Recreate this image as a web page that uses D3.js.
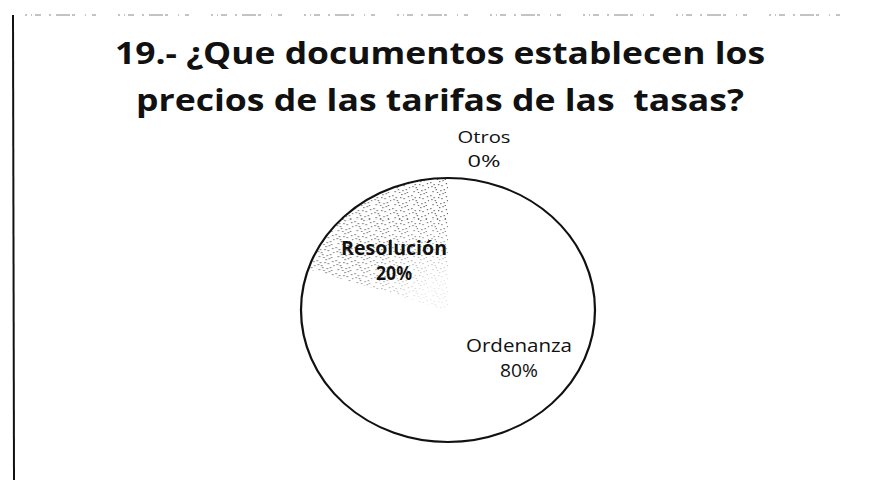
<!DOCTYPE html>
<html><head><meta charset="utf-8">
<script src="https://cdn.jsdelivr.net/npm/d3@7"></script>
<style>body{margin:0;background:#fff}svg{display:block}</style>
</head><body>
<svg id="c" width="873" height="480"></svg>
<script>
const categories = ["Resolución", "Ordenanza", "Otros"];
const values = [20, 80, 0];
const pctLabels = ["20%", "80%", "0%"];
const titleLines = ["19.- ¿Que documentos establecen los", "precios de las tarifas de las  tasas?"];

const svg = d3.select("#c");

// speckle pattern
const defs = svg.append("defs");
const pat = defs.append("pattern").attr("id","speck").attr("patternUnits","userSpaceOnUse")
  .attr("width",17).attr("height",13);
const dots = [[1,2],[5,7],[9,1],[13,9],[3,11],[11,5],[15,3],[7,12],[2,6],[14,12],[8,4],[6,9],[12,0],[16,7],[4,4],[10,10]];
dots.forEach(d=>pat.append("rect").attr("x",d[0]).attr("y",d[1]).attr("width",1.2).attr("height",1.2).attr("fill","#666"));
const rg = defs.append("radialGradient").attr("id","fade").attr("gradientUnits","userSpaceOnUse")
  .attr("cx",0).attr("cy",0).attr("r",140);
rg.append("stop").attr("offset","0.2").attr("stop-color","#fff").attr("stop-opacity",0.85);
rg.append("stop").attr("offset","0.7").attr("stop-color","#fff").attr("stop-opacity",0.05);

// frame
svg.append("line").attr("x1",13).attr("y1",15).attr("x2",14).attr("y2",480)
  .attr("stroke","#111").attr("stroke-width",2);
svg.append("line").attr("x1",25).attr("y1",15).attr("x2",860).attr("y2",15)
  .attr("stroke","#888").attr("stroke-width",1).attr("stroke-dasharray","2 4 1 3 6 8 2 5 14 2 3 10 1 6 4 22");

// title
svg.selectAll("text.title").data(titleLines).enter().append("text")
  .attr("class","title")
  .attr("x",440).attr("y",(d,i)=>64+i*47)
  .attr("text-anchor","middle")
  .style("white-space","pre")
  .attr("font-family","'Open Sans', sans-serif").attr("font-weight","bold")
  .attr("font-size",31).attr("fill","#111")
  .attr("textLength",(d,i)=>i===0?650:608).attr("lengthAdjust","spacingAndGlyphs")
  .text(d=>d);

// pie
const cx = 448, cy = 310, r = 132, sx = 147/132;
const pie = d3.pie().sort(null).startAngle(-2*Math.PI*0.2).endAngle(2*Math.PI - 2*Math.PI*0.2).value(d=>d.v);
const data = categories.map((c,i)=>({c, v:values[i], p:pctLabels[i]}));
const arcs = pie(data);
const arc = d3.arc().innerRadius(0).outerRadius(r);
const g = svg.append("g").attr("transform",`translate(${cx},${cy}) scale(${sx},1)`);
g.selectAll("path.slice").data(arcs).enter().append("path")
  .attr("class","slice")
  .attr("d",arc)
  .attr("fill",d=>d.data.c==="Resolución"?"url(#speck)":"#fff")
  .attr("stroke","none");
g.selectAll("path.fade").data(arcs.filter(d=>d.data.c==="Resolución")).enter().append("path")
  .attr("d",arc).attr("fill","url(#fade)");
g.append("ellipse").attr("cx",0).attr("cy",0).attr("rx",r).attr("ry",r)
  .attr("fill","none").attr("stroke","#111").attr("stroke-width",2);

// labels: [x, y of name baseline, y of pct baseline, name width, pct width]
const labelPos = {"Resolución":[394,255,280,106,36], "Ordenanza":[519,352,377,106,38], "Otros":[484,143,167,53,33]};
const lbl = svg.selectAll("g.lbl").data(arcs).enter().append("g").attr("class","lbl");
lbl.append("text")
  .attr("x",d=>labelPos[d.data.c][0]).attr("y",d=>labelPos[d.data.c][1])
  .attr("text-anchor","middle")
  .attr("font-family","'Open Sans', sans-serif")
  .attr("font-size",d=>d.data.c==="Otros"?16:19)
  .attr("font-weight",d=>d.data.c==="Resolución"?"bold":"normal")
  .attr("textLength",d=>labelPos[d.data.c][3]).attr("lengthAdjust","spacingAndGlyphs")
  .attr("fill","#111")
  .text(d=>d.data.c);
lbl.append("text")
  .attr("x",d=>labelPos[d.data.c][0]).attr("y",d=>labelPos[d.data.c][2])
  .attr("text-anchor","middle")
  .attr("font-family","'Open Sans', sans-serif")
  .attr("font-size",d=>d.data.c==="Otros"?16:19)
  .attr("font-weight",d=>d.data.c==="Resolución"?"bold":"normal")
  .attr("textLength",d=>labelPos[d.data.c][4]).attr("lengthAdjust","spacingAndGlyphs")
  .attr("fill","#111")
  .text(d=>d.data.p);
</script>
</body></html>
